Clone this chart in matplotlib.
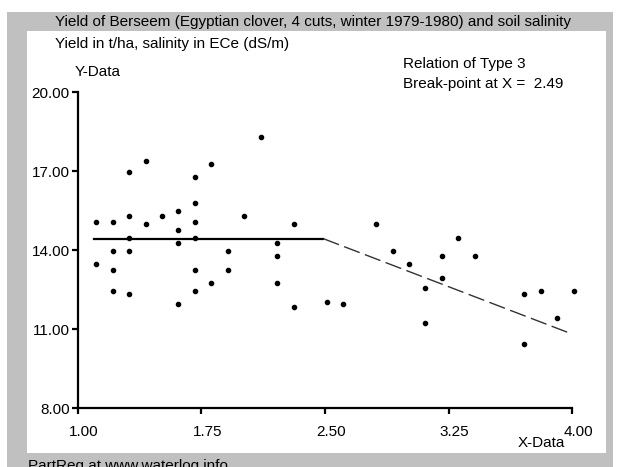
import matplotlib
matplotlib.use("Agg")
import matplotlib.pyplot as plt
import matplotlib.transforms as mtransforms
from matplotlib.patches import Rectangle

plt.rcParams['font.family'] = ['Liberation Sans', 'DejaVu Sans']

# salinity ECe (dS/m) and yield (t/ha)
ece = [1.11, 1.11, 1.21, 1.21, 1.21, 1.21, 1.31, 1.31, 1.31, 1.31, 1.31,
       1.41, 1.41, 1.51, 1.61, 1.61, 1.61, 1.61,
       1.71, 1.71, 1.71, 1.71, 1.71, 1.71, 1.81, 1.81,
       1.91, 1.91, 2.01, 2.11, 2.21, 2.21, 2.21, 2.31, 2.31,
       2.51, 2.61, 2.81, 2.91, 3.01, 3.11, 3.11, 3.21, 3.21, 3.31, 3.41,
       3.71, 3.71, 3.81, 3.91, 4.01]
yld = [15.05, 13.46, 15.05, 13.95, 13.24, 12.44, 16.97, 15.28, 14.47, 13.95, 12.34,
       17.39, 14.98, 15.28, 15.47, 14.75, 14.25, 11.96,
       16.78, 15.77, 15.05, 14.47, 13.24, 12.44, 17.28, 12.75,
       13.95, 13.24, 15.28, 18.30, 14.25, 13.77, 12.75, 14.98, 11.85,
       12.04, 11.96, 14.98, 13.96, 13.47, 12.57, 11.24, 13.77, 12.94, 14.44, 13.77,
       12.33, 10.44, 12.44, 11.43, 12.44]

# fitted broken-line relation (type 3)
x_min = 1.10
x_break = 2.49
y_level = 14.43
x_end = 4.00
y_end = 10.81

fig = plt.figure(figsize=(6.21, 4.67), dpi=100)

# grey frame and white panel behind everything
fig.patches.append(Rectangle((7/621, 0), 606/621, 1 - 12/467, transform=fig.transFigure,
                             facecolor="#c0c0c0", edgecolor="none", zorder=-2))
fig.patches.append(Rectangle((27/621, 1 - 453/467), 579/621, 422/467, transform=fig.transFigure,
                             facecolor="white", edgecolor="none", zorder=-1))

ax = fig.add_axes([78/621, 1 - 408/467, 494/621, 316/467])
ax.patch.set_alpha(0)

ax.scatter(ece, yld, s=9, color="black", zorder=3, clip_on=False)
ax.plot([x_min, x_break], [y_level, y_level], color="black", lw=1.6)
ax.plot([x_break, x_end], [y_level, y_end], color="#333333", lw=1.0, dashes=(12, 4))

ax.set_xlim(1.0, 4.0)
ax.set_ylim(8.0, 20.0)
ax.set_xticks([1.00, 1.75, 2.50, 3.25, 4.00])
ax.set_xticklabels(["1.00", "1.75", "2.50", "3.25", "4.00"])
ax.set_yticks([8.00, 11.00, 14.00, 17.00, 20.00])
ax.set_yticklabels(["8.00", "11.00", "14.00", "17.00", "20.00"])

for side in ["top", "right"]:
    ax.spines[side].set_visible(False)
for side in ["left", "bottom"]:
    ax.spines[side].set_linewidth(1.6)
ax.tick_params(axis="both", direction="out", length=4, width=1.6, labelsize=11, colors="black")
ax.tick_params(axis="x", pad=8)
ax.tick_params(axis="y", pad=2)

shift = mtransforms.ScaledTranslation(6/100, 0, fig.dpi_scale_trans)
for lab in ax.get_xticklabels():
    lab.set_transform(lab.get_transform() + shift)

fs = 11
fig.text(55/621, 1 - 22/467, "Yield of Berseem (Egyptian clover, 4 cuts, winter 1979-1980) and soil salinity",
         fontsize=fs, va="center", ha="left")
fig.text(55/621, 1 - 44/467, "Yield in t/ha, salinity in ECe (dS/m)", fontsize=fs, va="center", ha="left")
fig.text(75/621, 1 - 72/467, "Y-Data", fontsize=fs, va="center", ha="left")
fig.text(403/621, 1 - 64/467, "Relation of Type 3", fontsize=fs, va="center", ha="left")
fig.text(403/621, 1 - 84/467, "Break-point at X =  2.49", fontsize=fs, va="center", ha="left")
fig.text(541/621, 1 - 443/467, "X-Data", fontsize=fs, va="center", ha="center")
fig.text(28/621, 1 - 459/467, "PartReg at www.waterlog.info", fontsize=fs, va="top", ha="left")

fig.savefig("out.png", dpi=100)
